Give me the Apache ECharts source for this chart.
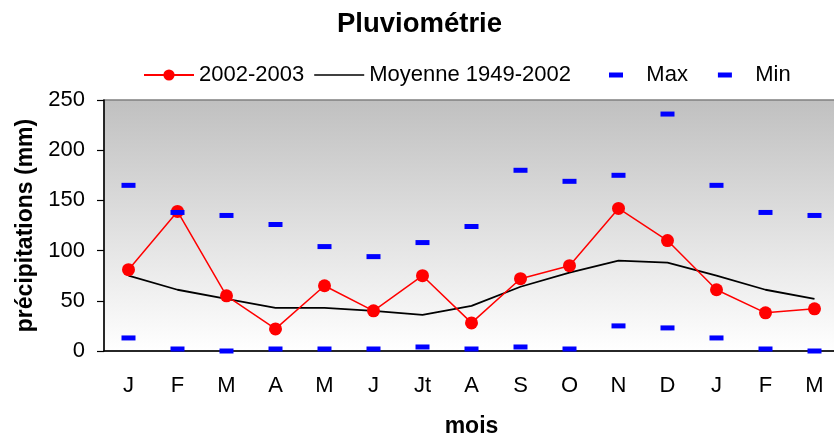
<!DOCTYPE html>
<html>
<head>
<meta charset="utf-8">
<script src="https://cdn.jsdelivr.net/npm/echarts@6/dist/echarts.min.js"></script>
<style>
  html, body { margin: 0; padding: 0; background: #fff; }
  #chart { width: 834px; height: 434px; }
</style>
</head>
<body>
<div id="chart"></div>
<script>
// months, Jan 2002 -> Mar 2003 (hydrological year)
const months = ['J', 'F', 'M', 'A', 'M', 'J', 'Jt', 'A', 'S', 'O', 'N', 'D', 'J', 'F', 'M'];
const yTicks = [0, 50, 100, 150, 200, 250];

const pluie2002 = [81, 139, 55, 22, 65, 40, 75, 28, 72, 85, 142, 110, 61, 38, 42];
const moyenne = [75, 61, 52, 43, 43, 40, 36, 45, 64, 78, 90, 88, 75, 61, 52];
const maxi = [165, 138, 135, 126, 104, 94, 108, 124, 180, 169, 175, 236, 165, 138, 135];
const mini = [13, 2, 0, 2, 2, 2, 4, 2, 4, 2, 25, 23, 13, 2, 0];

const FONT = 'Liberation Sans, Arial, sans-serif';

const chart = echarts.init(document.getElementById('chart'));

const options = {
    animation: false,
    title: {
        text: 'Pluviométrie',
        left: 337,
        top: 10,
        padding: 0,
        textStyle: { fontFamily: FONT, fontSize: 27.5, fontWeight: 'bold', color: '#000' },
    },
    legend: [
        {
            data: [
                { name: '2002-2003' },
                // plain line, no marker
                { name: 'Moyenne 1949-2002', icon: 'path://M0,0h50v1.6h-50z' },
            ],
            left: 143,
            top: 64,
            padding: 0,
            itemWidth: 50,
            itemHeight: 14,
            itemGap: 10,
            textStyle: { fontFamily: FONT, fontSize: 22, color: '#000' },
        },
        {
            data: ['Max', 'Min'],
            left: 609,
            top: 64,
            padding: 0,
            itemWidth: 14,
            itemHeight: 5,
            itemGap: 30,
            formatter: (name) => '   ' + name,
            textStyle: { fontFamily: FONT, fontSize: 22, color: '#000' },
        },
    ],
    grid: {
        left: 104,
        top: 100,
        width: 735,
        height: 251,
        outerBoundsMode: 'none',
        containLabel: false,
        show: true,
        borderColor: '#808080',
        borderWidth: 1.5,
        backgroundColor: new echarts.graphic.LinearGradient(0, 0, 0, 1, [
            { offset: 0, color: '#c0c0c0' },
            { offset: 1, color: '#ffffff' },
        ]),
    },
    xAxis: {
        type: 'category',
        data: months,
        boundaryGap: true,
        name: 'mois',
        nameLocation: 'middle',
        nameGap: 64,
        nameTextStyle: { fontFamily: FONT, fontSize: 23, fontWeight: 'bold', color: '#000' },
        axisLine: { lineStyle: { color: '#000', width: 1.5 } },
        axisTick: { length: 7, lineStyle: { color: '#000', width: 1.2 } },
        axisLabel: { margin: 24, fontFamily: FONT, fontSize: 22, color: '#000' },
        splitLine: { show: false },
    },
    yAxis: {
        type: 'value',
        min: yTicks[0],
        max: yTicks[yTicks.length - 1],
        interval: 50,
        name: 'précipitations (mm)',
        nameLocation: 'middle',
        nameGap: 67,
        nameTextStyle: { fontFamily: FONT, fontSize: 23, fontWeight: 'bold', color: '#000' },
        axisLine: { show: true, lineStyle: { color: '#000', width: 1.5 } },
        axisTick: { show: true, length: 7, lineStyle: { color: '#000', width: 1.2 } },
        axisLabel: { margin: 19, fontFamily: FONT, fontSize: 22, color: '#000' },
        splitLine: { show: false },
    },
    series: [
        {
            name: '2002-2003',
            type: 'line',
            data: pluie2002,
            symbol: 'circle',
            symbolSize: 13,
            itemStyle: { color: '#ff0000' },
            lineStyle: { color: '#ff0000', width: 1.5 },
            z: 3,
        },
        {
            name: 'Moyenne 1949-2002',
            type: 'line',
            data: moyenne,
            symbol: 'none',
            itemStyle: { color: '#000' },
            lineStyle: { color: '#000', width: 1.8 },
            z: 2,
        },
        {
            name: 'Max',
            type: 'scatter',
            data: maxi,
            symbol: 'rect',
            symbolSize: [14, 5],
            itemStyle: { color: '#0000ff', opacity: 1 },
            z: 4,
        },
        {
            name: 'Min',
            type: 'scatter',
            data: mini,
            symbol: 'rect',
            symbolSize: [14, 5],
            itemStyle: { color: '#0000ff', opacity: 1 },
            z: 4,
        },
    ],
};

chart.setOption(options);
</script>
</body>
</html>
